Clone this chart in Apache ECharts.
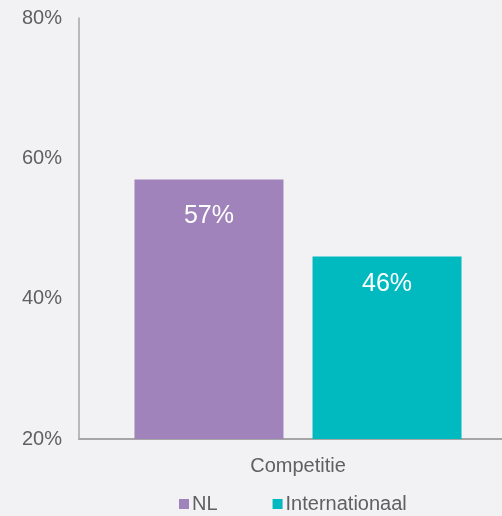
<!DOCTYPE html>
<html><head><meta charset="utf-8">
<script src="https://cdn.jsdelivr.net/npm/echarts@6/dist/echarts.min.js"></script>
<style>html,body{margin:0;padding:0;background:#f2f2f4;overflow:hidden}#c{width:517px;height:516px}</style>
</head><body><div id="c"></div>
<script>
const categories = ['Competitie'];
const seriesNames = ['NL', 'Internationaal'];
const nlValues = [57];
const intValues = [46];
const yTicks = [20, 40, 60, 80];

const chart = echarts.init(document.getElementById('c'), null, {renderer: 'canvas'});
const font = "'Liberation Sans', Arial, sans-serif";
chart.setOption({
  backgroundColor: '#f2f2f4',
  animation: false,
  grid: {left: 79, right: 0, top: 18, bottom: 77, containLabel: false},
  legend: {
    data: seriesNames, bottom: -3, left: 174, itemWidth: 10, itemHeight: 10, itemGap: 55,
    icon: 'rect',
    textStyle: {fontFamily: font, fontSize: 20, color: '#606060', padding: [0,0,0,-2]}
  },
  xAxis: {
    type: 'category', data: categories,
    axisLine: {lineStyle: {color: '#a6a6a6', width: 2}},
    axisTick: {show: false},
    axisLabel: {fontFamily: font, fontSize: 20, color: '#606060', margin: 17}
  },
  yAxis: {
    type: 'value', min: yTicks[0], max: yTicks[yTicks.length-1], interval: 20,
    axisLine: {show: true, lineStyle: {color: '#a6a6a6', width: 1.5}},
    axisTick: {show: false},
    splitLine: {show: false},
    axisLabel: {fontFamily: font, fontSize: 20, color: '#606060', margin: 17, formatter: '{value}%'}
  },
  series: [
    {name: seriesNames[0], type: 'bar', data: nlValues, barWidth: 149, barGap: '19.5%',
     itemStyle: {color: '#9f83ba'},
     label: {show: true, position: 'insideTop', distance: 24, formatter: '{c}%', color: '#fff', fontSize: 25, fontFamily: font}},
    {name: seriesNames[1], type: 'bar', data: intValues, barWidth: 149,
     itemStyle: {color: '#00bac0'},
     label: {show: true, position: 'insideTop', distance: 15, formatter: '{c}%', color: '#fff', fontSize: 25, fontFamily: font}}
  ]
});
</script></body></html>
